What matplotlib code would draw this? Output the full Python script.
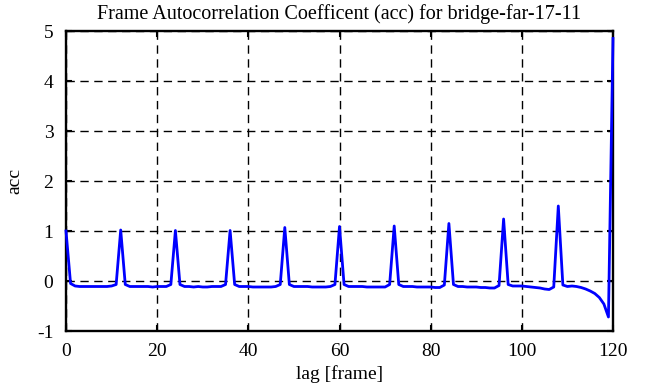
import matplotlib
matplotlib.use('Agg')
import matplotlib.pyplot as plt

# ---- data ----
lags = list(range(0, 121))
acc = [
    1.00, -0.05, -0.10, -0.11, -0.11, -0.11, -0.11, -0.11, -0.11, -0.11,   # 0-9
    -0.10, -0.07, 1.02, -0.07, -0.11, -0.11, -0.11, -0.11, -0.11, -0.12,   # 10-19
    -0.11, -0.11, -0.11, -0.07, 1.01, -0.07, -0.11, -0.11, -0.12, -0.11,   # 20-29
    -0.12, -0.12, -0.11, -0.11, -0.11, -0.07, 1.01, -0.07, -0.11, -0.11,   # 30-39
    -0.11, -0.12, -0.12, -0.12, -0.12, -0.12, -0.11, -0.07, 1.07, -0.07,   # 40-49
    -0.11, -0.11, -0.11, -0.11, -0.12, -0.12, -0.12, -0.12, -0.11, -0.07,  # 50-59
    1.09, -0.07, -0.11, -0.11, -0.11, -0.11, -0.12, -0.12, -0.12, -0.12,   # 60-69
    -0.12, -0.07, 1.10, -0.07, -0.11, -0.11, -0.11, -0.12, -0.12, -0.12,   # 70-79
    -0.12, -0.13, -0.13, -0.08, 1.15, -0.07, -0.11, -0.11, -0.12, -0.12,   # 80-89
    -0.12, -0.13, -0.13, -0.14, -0.14, -0.09, 1.24, -0.07, -0.10, -0.10,   # 90-99
    -0.10, -0.11, -0.12, -0.13, -0.14, -0.16, -0.17, -0.12, 1.50, -0.08,   # 100-109
    -0.11, -0.10, -0.11, -0.13, -0.16, -0.20, -0.25, -0.33, -0.46, -0.72,  # 110-119
    4.85,                                                                  # 120
]
assert len(acc) == len(lags)

title = "Frame Autocorrelation Coefficent (acc) for bridge-far-17-11"
xticks = [0, 20, 40, 60, 80, 100, 120]
yticks = [-1, 0, 1, 2, 3, 4, 5]

plt.rcParams['font.family'] = ['Liberation Serif', 'DejaVu Serif']
plt.rcParams['axes.unicode_minus'] = False

fig = plt.figure(figsize=(6.46, 3.87), dpi=100)
ax = fig.add_axes([66/646, 1-331/387, (613-66)/646, (331-31)/387])

ax.plot(lags, acc, color='#0000ff', lw=2.0, zorder=3, clip_on=False)

ax.set_xlim(0, 120)
ax.set_ylim(-1, 5)
ax.set_xticks(xticks)
ax.set_yticks(yticks)
ax.grid(True, color='black', linestyle=(0, (6, 4)), lw=1.0)
ax.tick_params(direction='in', length=4.5, width=1.5, top=True, right=True,
               labelsize=14)
ax.tick_params(axis='x', pad=9)
ax.tick_params(axis='y', pad=9)
for s in ax.spines.values():
    s.set_linewidth(1.7)

ax.set_title(title, fontsize=14.5, pad=9)
ax.set_xlabel("lag [frame]", fontsize=14, labelpad=3)
ax.set_ylabel("acc", fontsize=14, labelpad=10)

fig.savefig('out.png', dpi=100)
